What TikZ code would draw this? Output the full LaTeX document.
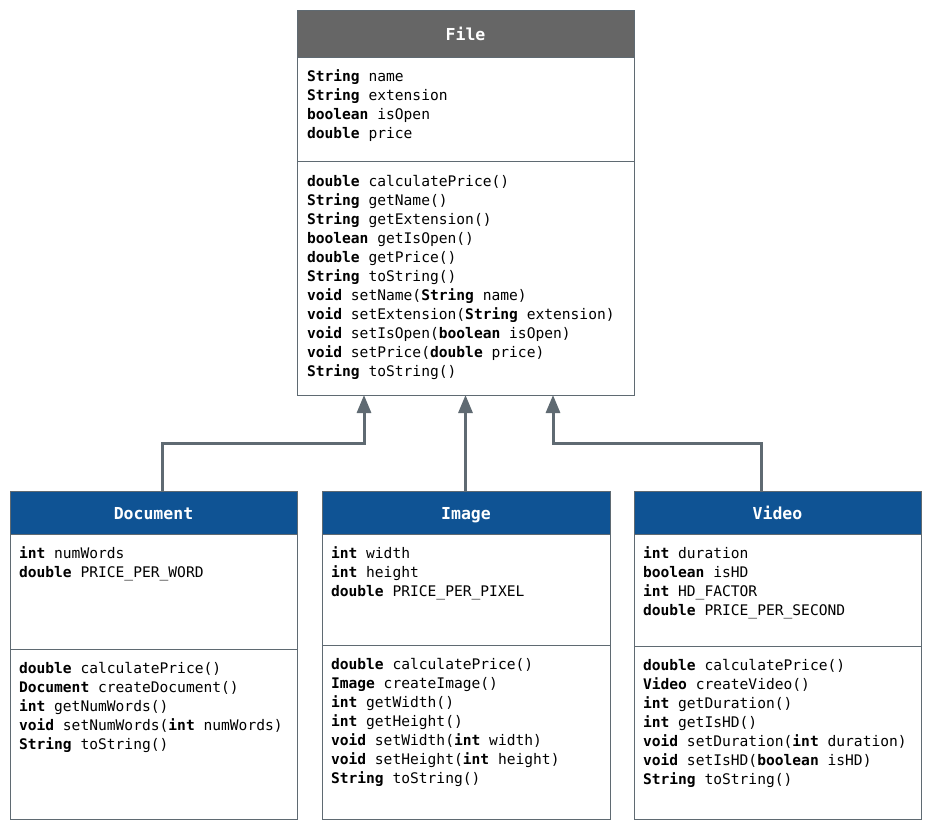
\documentclass[tikz,border=0pt]{standalone}
\usepackage{fontspec}
\setmonofont{DejaVu Sans Mono}
\usetikzlibrary{arrows.meta}
\definecolor{hdrgray}{HTML}{666666}
\definecolor{hdrblue}{HTML}{0F5394}
\definecolor{edgec}{HTML}{5F6A72}
\newcommand\kw[1]{\textbf{#1}}
\newcommand\umltext[1]{\begin{tabular}[t]{@{}l@{}}#1\end{tabular}}
\begin{document}
\begin{tikzpicture}[x=1pt,y=-1pt,
  box/.style={draw=edgec, line width=1pt, anchor=north west, inner sep=0pt, outer sep=0pt},
  hdr/.style={box, text=white, text height=15pt, text depth=1pt, font=\ttfamily\bfseries\fontsize{16.5}{20}\selectfont},
  body/.style={anchor=base west, inner sep=0pt, outer sep=0pt, font=\ttfamily\fontsize{14.6}{19}\selectfont},
  divider/.style={draw=edgec, line width=1pt},
  inh/.style={draw=edgec, line width=3pt, -{Triangle[width=14pt,length=18pt]}}]
\useasboundingbox (0,0) rectangle (933,828);

% ---------- File ----------
\node[box, minimum width=337pt, minimum height=385pt] (file) at (297,10) {};
\node[hdr, fill=hdrgray, minimum width=337pt, minimum height=47pt] (fileh) at (297,10) {File};
\draw[divider] (297,161) -- (634,161);
\node[body] (filea) at (307,81.5) {\umltext{%
\kw{String} name\\
\kw{String} extension\\
\kw{boolean} isOpen\\
\kw{double} price}};
\node[body] (filem) at (307,186.5) {\umltext{%
\kw{double} calculatePrice()\\
\kw{String} getName()\\
\kw{String} getExtension()\\
\kw{boolean} getIsOpen()\\
\kw{double} getPrice()\\
\kw{String} toString()\\
\kw{void} setName(\kw{String} name)\\
\kw{void} setExtension(\kw{String} extension)\\
\kw{void} setIsOpen(\kw{boolean} isOpen)\\
\kw{void} setPrice(\kw{double} price)\\
\kw{String} toString()}};

% ---------- Document ----------
\node[box, minimum width=287pt, minimum height=328pt] (doc) at (10,491) {};
\node[hdr, fill=hdrblue, minimum width=287pt, minimum height=43pt] (doch) at (10,491) {Document};
\draw[divider] (10,649) -- (297,649);
\node[body] (doca) at (19,558.5) {\umltext{%
\kw{int} numWords\\
\kw{double} PRICE\_PER\_WORD}};
\node[body] (docm) at (19,673.5) {\umltext{%
\kw{double} calculatePrice()\\
\kw{Document} createDocument()\\
\kw{int} getNumWords()\\
\kw{void} setNumWords(\kw{int} numWords)\\
\kw{String} toString()}};

% ---------- Image ----------
\node[box, minimum width=288pt, minimum height=328pt] (img) at (322,491) {};
\node[hdr, fill=hdrblue, minimum width=288pt, minimum height=43pt] (imgh) at (322,491) {Image};
\draw[divider] (322,645) -- (610,645);
\node[body] (imga) at (331,558.5) {\umltext{%
\kw{int} width\\
\kw{int} height\\
\kw{double} PRICE\_PER\_PIXEL}};
\node[body] (imgm) at (331,669.5) {\umltext{%
\kw{double} calculatePrice()\\
\kw{Image} createImage()\\
\kw{int} getWidth()\\
\kw{int} getHeight()\\
\kw{void} setWidth(\kw{int} width)\\
\kw{void} setHeight(\kw{int} height)\\
\kw{String} toString()}};

% ---------- Video ----------
\node[box, minimum width=287pt, minimum height=328pt] (vid) at (634,491) {};
\node[hdr, fill=hdrblue, minimum width=287pt, minimum height=43pt] (vidh) at (634,491) {Video};
\draw[divider] (634,646) -- (921,646);
\node[body] (vida) at (643,558.5) {\umltext{%
\kw{int} duration\\
\kw{boolean} isHD\\
\kw{int} HD\_FACTOR\\
\kw{double} PRICE\_PER\_SECOND}};
\node[body] (vidm) at (643,670.5) {\umltext{%
\kw{double} calculatePrice()\\
\kw{Video} createVideo()\\
\kw{int} getDuration()\\
\kw{int} getIsHD()\\
\kw{void} setDuration(\kw{int} duration)\\
\kw{void} setIsHD(\kw{boolean} isHD)\\
\kw{String} toString()}};

% ---------- Inheritance connectors ----------
\draw[inh] ([xshift=8.5pt]doch.north) -- ++(0,-48) -| ([xshift=-101.5pt]file.south);
\draw[inh] (imgh.north -| file.south) -- (file.south);
\draw[inh] ([xshift=-16.5pt]vidh.north) -- ++(0,-48) -| ([xshift=87.5pt]file.south);
\end{tikzpicture}
\end{document}
